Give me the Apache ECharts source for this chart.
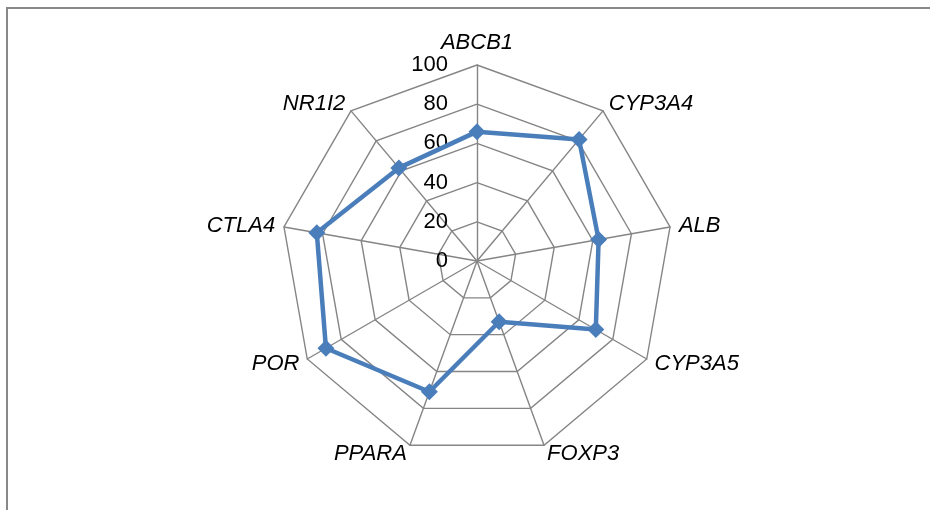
<!DOCTYPE html>
<html lang="en">
<head>
    <meta charset="UTF-8">
    <title>Radar</title>
    <script src="https://cdn.jsdelivr.net/npm/echarts@6/dist/echarts.min.js"></script>
    <style>
        html, body { margin: 0; padding: 0; background: #fff; }
    </style>
</head>
<body>
<div id="main" style="width: 930px;height: 510px"></div>
<script>
    // indicators in clockwise order, starting at the top
    var genes = ['ABCB1', 'CYP3A4', 'ALB', 'CYP3A5', 'FOXP3', 'PPARA', 'POR', 'CTLA4', 'NR1I2'];
    var values = [66, 81, 63, 70, 33, 71, 89, 83, 62];
    var maxValue = 100;
    var gridColor = '#858585';
    var lineColor = '#4a7ebb';

    // echarts radar runs counter-clockwise, so flip everything after the first axis
    var order = [0].concat(genes.slice(1).map(function (g, i) { return genes.length - 1 - i; }));
    var indicator = order.map(function (idx, k) {
        var ind = { name: genes[idx], max: maxValue, min: 0 };
        if (k === 0) {
            ind.axisLabel = {
                show: true,
                color: '#000',
                fontSize: 22,
                fontFamily: 'Liberation Sans',
                margin: 29
            };
        }
        return ind;
    });
    var seriesData = order.map(function (idx) { return values[idx]; });

    var myChart = echarts.init(document.getElementById('main'));
    var option = {
        backgroundColor: '#fff',
        animation: false,
        graphic: [{
            type: 'rect',
            shape: { x: 7, y: 8, width: 1000, height: 1000 },
            style: { fill: null, stroke: '#888', lineWidth: 2 },
            silent: true
        }],
        radar: {
            center: [477, 261],
            radius: 196,
            startAngle: 90,
            splitNumber: 5,
            shape: 'polygon',
            nameGap: 9,
            axisName: {
                color: '#000',
                fontSize: 22,
                fontStyle: 'italic',
                fontFamily: 'Liberation Sans'
            },
            splitArea: { show: false },
            splitLine: { lineStyle: { color: gridColor, width: 1.4 } },
            axisLine: { lineStyle: { color: gridColor, width: 1.4 } },
            axisTick: { show: false },
            indicator: indicator
        },
        series: [{
            type: 'radar',
            symbol: 'diamond',
            symbolSize: 17,
            lineStyle: { color: lineColor, width: 4.5 },
            itemStyle: { color: lineColor },
            data: [{ value: seriesData, name: 'value' }]
        }]
    };
    myChart.setOption(option);
</script>
</body>
</html>
